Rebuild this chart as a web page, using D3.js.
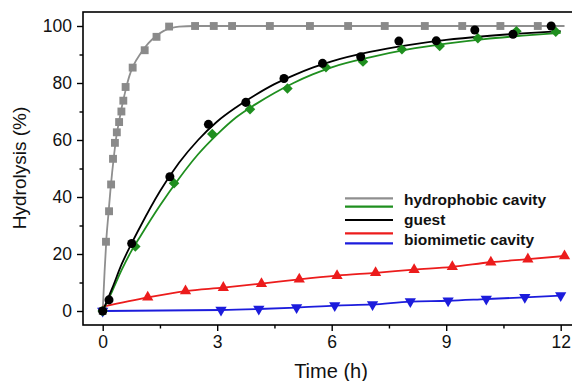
<!DOCTYPE html>
<html>
<head>
<meta charset="utf-8">
<script src="https://cdn.jsdelivr.net/npm/d3@7"></script>
<style>
  html, body { margin: 0; padding: 0; background: #fff; }
  svg { display: block; font-family: "Liberation Sans", Arial, sans-serif; }
</style>
</head>
<body>
<svg id="chart" width="572" height="381"></svg>
<script>
// Measured hydrolysis (%) versus time (h)
const hydrophobicT = [0, 0.086, 0.166, 0.22, 0.27, 0.32, 0.37, 0.43, 0.49, 0.54, 0.6, 0.785, 1.1, 1.41, 1.74, 2.42, 2.91, 3.39, 4.38, 5.43, 6.43, 7.39, 8.44, 9.42, 10.42, 11.4];
const hydrophobicY = [0, 24.3, 35, 44.4, 53.4, 59, 62.7, 66.3, 70, 73.8, 78.6, 85.4, 91.5, 96.2, 99.8, 100, 100, 100, 100, 100, 100, 100, 100, 100, 100, 100];

const guestT = [0, 0.165, 0.76, 1.76, 2.77, 3.75, 4.75, 5.76, 6.76, 7.76, 8.74, 9.75, 10.75, 11.75];
const guestY = [0, 3.9, 23.7, 47.1, 65.5, 73.2, 81.6, 86.9, 89.2, 94.7, 94.8, 98.6, 97.1, 100];

const hydrophobicGuestT = [0, 0.855, 1.87, 2.87, 3.86, 4.84, 5.85, 6.82, 7.84, 8.83, 9.83, 10.84, 11.87];
const hydrophobicGuestY = [0, 22.6, 44.8, 62.1, 70.8, 78.1, 85.5, 87.5, 91.8, 93.0, 95.7, 98.2, 98.0];

const biomimeticT = [1.18, 2.17, 3.16, 4.16, 5.15, 6.14, 7.15, 8.16, 9.16, 10.17, 11.14, 12.1];
const biomimeticY = [4.8, 7.0, 8.2, 9.6, 11.1, 12.4, 13.4, 14.5, 15.5, 17.1, 18.2, 19.3];

const biomimeticGuestT = [0, 3.1, 4.09, 5.08, 6.08, 7.07, 8.06, 9.05, 10.05, 11.06, 12.0];
const biomimeticGuestY = [0, 0.35, 0.7, 1.2, 1.9, 2.3, 3.3, 3.6, 4.2, 4.8, 5.4];

// Kinetic fit curves
const fitHydrophobicT = [0, 0.05, 0.1, 0.15, 0.2, 0.25, 0.3, 0.35, 0.4, 0.45, 0.5, 0.6, 0.7, 0.8, 1.0, 1.2, 1.4, 1.6, 1.8, 2.0, 2.4, 12.1];
const fitHydrophobicY = [0, 14, 26, 34, 42, 49, 55, 60.5, 64.5, 68, 71.5, 77.5, 82.5, 86, 90.5, 94, 96.5, 98.3, 99.3, 99.8, 100, 100];

const fitGuestT = [0, 0.25, 0.5, 0.75, 1, 1.5, 2, 2.5, 3, 3.5, 4, 4.5, 5, 5.5, 6, 7, 8, 9, 10, 11, 12];
const fitGuestY = [0, 8, 16.5, 23.5, 30, 42, 52, 60, 66.5, 71.5, 75.8, 79.6, 82.7, 85.4, 87.6, 90.9, 93.3, 95.1, 96.4, 97.4, 98.2];

const fitHydrophobicGuestT = [0, 0.25, 0.5, 0.75, 1, 1.5, 2, 2.5, 3, 3.5, 4, 4.5, 5, 5.5, 6, 7, 8, 9, 10, 11, 12];
const fitHydrophobicGuestY = [0, 7, 14.5, 21, 26.5, 37, 46.5, 55, 62, 68, 72.5, 76.5, 80, 83, 85.5, 89, 91.8, 93.8, 95.4, 96.6, 97.6];

const fitBiomimeticT = [0, 1.18, 2.17, 3.16, 4.16, 5.15, 6.14, 7.15, 8.16, 9.16, 10.17, 11.14, 12.1];
const fitBiomimeticY = [1.5, 4.8, 7.0, 8.2, 9.6, 11.1, 12.4, 13.4, 14.5, 15.5, 17.1, 18.2, 19.3];

const fitBiomimeticGuestT = [0, 3.1, 4.09, 5.08, 6.08, 7.07, 8.06, 9.05, 10.05, 11.06, 12.0];
const fitBiomimeticGuestY = [0, 0.35, 0.7, 1.2, 1.9, 2.3, 3.3, 3.6, 4.2, 4.8, 5.4];

const xTicks = [0, 3, 6, 9, 12];
const xMinorTicks = [1.5, 4.5, 7.5, 10.5];
const yTicks = [0, 20, 40, 60, 80, 100];
const yMinorTicks = [10, 30, 50, 70, 90];

const legendLabels = ["hydrophobic cavity", "guest", "biomimetic cavity"];

const colors = {
  gray: "#8f8f8f",
  grayMark: "#8a8a8a",
  green: "#1f8f1f",
  black: "#000000",
  red: "#ec1c1c",
  blue: "#1c1cdc"
};

const svg = d3.select("#chart");

const frame = { left: 83, right: 574, top: 12, bottom: 325 };
const x = d3.scaleLinear().domain([0, 12]).range([102.7, 560.7]);
const y = d3.scaleLinear().domain([0, 100]).range([311, 26]);

const zip = (ts, ys) => ts.map((t, i) => ({ t, v: ys[i] }));

// Frame (top + left + bottom; right side runs off the canvas)
svg.append("rect")
  .attr("x", frame.left).attr("y", frame.top)
  .attr("width", frame.right - frame.left).attr("height", frame.bottom - frame.top)
  .attr("fill", "none").attr("stroke", "#000").attr("stroke-width", 1.6);

// Axes
svg.append("g").attr("transform", `translate(0,${frame.bottom})`)
  .call(d3.axisBottom(x).tickValues(xTicks).tickSize(6).tickSizeOuter(0).tickPadding(5));
svg.append("g").attr("transform", `translate(0,${frame.bottom})`)
  .call(d3.axisBottom(x).tickValues(xMinorTicks).tickSize(3.5).tickFormat(""));
svg.append("g").attr("transform", `translate(${frame.left},0)`)
  .call(d3.axisLeft(y).tickValues(yTicks).tickSize(6).tickSizeOuter(0).tickPadding(5));
svg.append("g").attr("transform", `translate(${frame.left},0)`)
  .call(d3.axisLeft(y).tickValues(yMinorTicks).tickSize(3.5).tickFormat(""));

svg.selectAll(".domain").remove();
svg.selectAll(".tick line").attr("stroke", "#000").attr("stroke-width", 1.4);
svg.selectAll(".tick text").attr("font-size", 17.5).attr("fill", "#111")
  .attr("font-family", "'Liberation Sans', Arial, sans-serif");

// Axis titles
svg.append("text")
  .attr("x", 331).attr("y", 378)
  .attr("text-anchor", "middle").attr("font-size", 20).attr("fill", "#111")
  .text("Time (h)");
svg.append("text")
  .attr("transform", "translate(26,168) rotate(-90)")
  .attr("text-anchor", "middle").attr("font-size", 19).attr("fill", "#111")
  .text("Hydrolysis (%)");

// Fit curves
const line = d3.line().x(d => x(d.t)).y(d => y(d.v)).curve(d3.curveMonotoneX);
const fits = [
  { data: zip(fitHydrophobicT, fitHydrophobicY), color: colors.gray, w: 1.8 },
  { data: zip(fitBiomimeticGuestT, fitBiomimeticGuestY), color: colors.blue, w: 1.8 },
  { data: zip(fitBiomimeticT, fitBiomimeticY), color: colors.red, w: 1.8 },
  { data: zip(fitHydrophobicGuestT, fitHydrophobicGuestY), color: colors.green, w: 1.8 },
  { data: zip(fitGuestT, fitGuestY), color: colors.black, w: 1.8 }
];
svg.append("g").selectAll("path").data(fits).join("path")
  .attr("d", d => line(d.data))
  .attr("fill", "none").attr("stroke", d => d.color).attr("stroke-width", d => d.w);

// Markers
function drawMarkers(data, type, size, color) {
  svg.append("g").selectAll("path").data(data).join("path")
    .attr("transform", d => `translate(${x(d.t)},${y(d.v)})` + (type === "down" ? " rotate(180)" : ""))
    .attr("d", d3.symbol().type(
      type === "square" ? d3.symbolSquare :
      type === "circle" ? d3.symbolCircle :
      type === "diamond" ? d3.symbolDiamond2 : d3.symbolTriangle
    ).size(size))
    .attr("fill", color);
}
drawMarkers(zip(hydrophobicT, hydrophobicY), "square", 62, colors.grayMark);
drawMarkers(zip(biomimeticGuestT, biomimeticGuestY), "down", 55, colors.blue);
drawMarkers(zip(biomimeticT, biomimeticY), "up", 55, colors.red);
drawMarkers(zip(hydrophobicGuestT, hydrophobicGuestY), "diamond", 70, colors.green);
drawMarkers(zip(guestT, guestY), "circle", 64, colors.black);

// Legend
const legendRows = [
  { y: 198.3, color: colors.gray },
  { y: 206.7, color: colors.green },
  { y: 220, color: colors.black },
  { y: 233.3, color: colors.red },
  { y: 243.3, color: colors.blue }
];
const legend = svg.append("g");
legend.selectAll("line").data(legendRows).join("line")
  .attr("x1", 345).attr("x2", 393)
  .attr("y1", d => d.y).attr("y2", d => d.y)
  .attr("stroke", d => d.color).attr("stroke-width", 2.2);
const legendTextY = [205, 225, 245];
legend.selectAll("text").data(legendLabels).join("text")
  .attr("x", 404).attr("y", (d, i) => legendTextY[i])
  .attr("font-size", 15.5).attr("font-weight", "bold").attr("fill", "#111")
  .text(d => d);
</script>
</body>
</html>
